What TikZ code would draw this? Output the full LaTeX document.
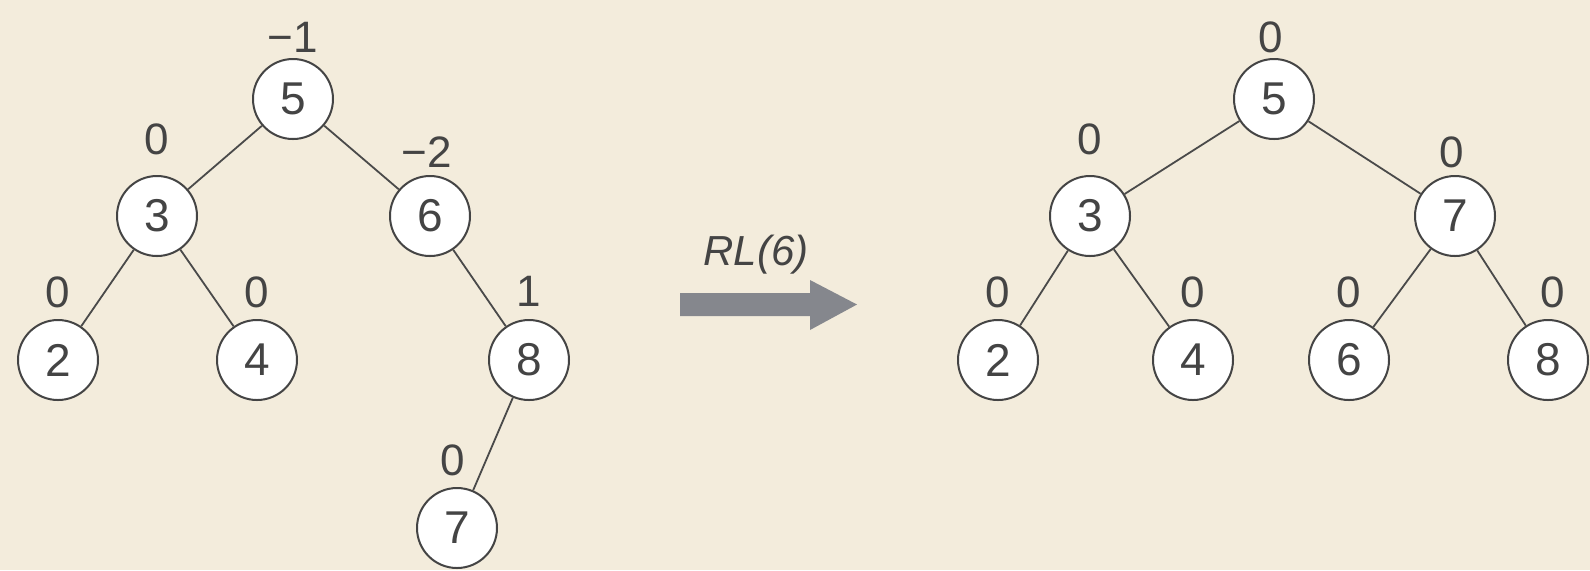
\documentclass[tikz,border=0pt]{standalone}
\usepackage{fontspec}
\setmainfont{Liberation Sans}
\usetikzlibrary{positioning}
\definecolor{avlPaper}{HTML}{F3ECDC}
\definecolor{avlInk}{HTML}{444444}
\definecolor{avlLine}{HTML}{4A4A4A}
\definecolor{avlArrow}{HTML}{85878D}
\tikzset{
    avlNode/.style={
        circle,
        draw=avlInk,
        line width=1pt,
        fill=white,
        minimum size=40pt,
        inner sep=0pt,
        font=\fontsize{23}{27}\selectfont,
        text=avlInk
    },
    avlBal/.style={
        inner sep=0pt,
        font=\fontsize{22}{26}\selectfont,
        text=avlInk
    },
    avlEdge/.style={draw=avlLine, line width=0.9pt},
    avlOp/.style={font=\fontsize{21}{25}\selectfont\itshape, text=avlInk}
}

\begin{document}
\begin{tikzpicture}[x=0.5pt, y=-0.5pt]
    % paper
    \fill[avlPaper] (0,0) rectangle (1590,570);
    \useasboundingbox (0,0) rectangle (1590,570);

    % tree before the rotation
    \foreach \n/\x/\y in {5/293/99, 3/157/216, 6/430/216, 2/58/360, 4/257/360, 8/529/360, 7/457/528} {
        \node[avlNode] (old\n) at (\x,\y) {\n};
    }
    \foreach \p/\c in {5/3, 5/6, 3/2, 3/4, 6/8, 8/7} {
        \draw[avlEdge] (old\p) -- (old\c);
    }
    \foreach \n/\b/\d/\dx in {5/−1/2.5/0, 3/0/10/0, 6/−2/3.5/-1.5, 2/0/5.25/0, 4/0/5.25/0, 8/1/6.25/0, 7/0/5.25/-2} {
        \node[avlBal, above=\d pt of old\n, xshift=\dx pt] (oldb\n) {\b};
    }

    % the double rotation
    \fill[avlArrow] (680,293) -- (810,293) -- (810,280) -- (857,304.5)
        -- (810,330) -- (810,316) -- (680,316) -- cycle;
    \node[avlOp] (op) at (756,255) {RL(6)};

    % tree after the rotation
    \foreach \n/\x/\y in {5/1274/99, 3/1090/216, 7/1455/216, 2/998/360, 4/1193/360, 6/1349/360, 8/1548/360} {
        \node[avlNode] (new\n) at (\x,\y) {\n};
    }
    \foreach \p/\c in {5/3, 5/7, 3/2, 3/4, 7/6, 7/8} {
        \draw[avlEdge] (new\p) -- (new\c);
    }
    \foreach \n/\d/\dx in {5/2.5/-1.5, 3/10/0, 7/3.5/-1.5, 2/5.25/0, 4/5.25/0, 6/5.25/0, 8/5.25/2.5} {
        \node[avlBal, above=\d pt of new\n, xshift=\dx pt] (newb\n) {0};
    }
\end{tikzpicture}
\end{document}
